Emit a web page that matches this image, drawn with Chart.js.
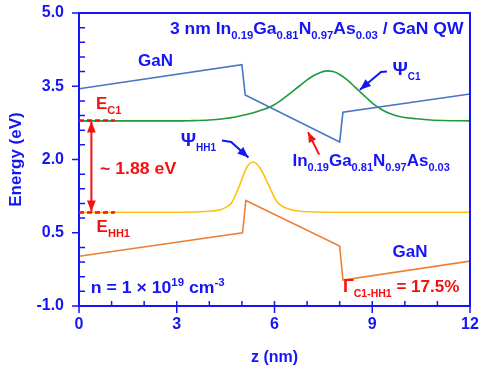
<!DOCTYPE html>
<html lang="en">

<head>
    <meta charset="UTF-8">
    <title>InGaNAs / GaN QW band diagram</title>
    <script src="https://cdn.jsdelivr.net/npm/chart.js"></script>
    <style>
        body {
            margin: 0;
            background: #fff;
        }
    </style>
</head>

<body>
    <canvas id="bands" width="486" height="368"></canvas>
    <script>
        // band edges (z in nm, energy in eV)
        const zCB = [0, 5.0, 5.1, 8.0, 8.1, 12];
        const eCB = [3.45, 3.94, 3.32, 2.36, 2.97, 3.34];
        const zVB = [0, 5.02, 5.12, 8.0, 8.1, 12];
        const eVB = [0.02, 0.50, 1.16, 0.23, -0.47, -0.08];

        // wavefunctions
        const zC1 = [0, 1, 2, 3, 3.4, 4.0, 4.43, 4.8, 5.14, 5.5, 5.91, 6.2, 6.47, 6.75, 6.98, 7.3, 7.6, 7.8, 8.0, 8.25, 8.52, 8.8, 9.03, 9.3, 9.54, 9.9, 10.36, 10.8, 11.17, 12];
        const eC1 = [2.79, 2.79, 2.79, 2.79, 2.795, 2.81, 2.835, 2.87, 2.92, 2.99, 3.09, 3.21, 3.35, 3.5, 3.62, 3.75, 3.815, 3.8, 3.74, 3.62, 3.45, 3.28, 3.14, 3.02, 2.94, 2.87, 2.835, 2.81, 2.80, 2.79];
        const zHH1 = [0, 3, 3.71, 4.33, 4.5, 4.68, 4.94, 5.14, 5.35, 5.55, 5.81, 6.06, 6.2, 6.37, 6.78, 8, 12];
        const eHH1 = [0.92, 0.92, 0.93, 0.97, 1.02, 1.11, 1.49, 1.83, 1.95, 1.83, 1.49, 1.15, 1.06, 1.00, 0.94, 0.92, 0.92];

        const EC1 = 2.8;
        const EHH1 = 0.915;

        const BLUE = '#1515f5';
        const RED = '#f51010';
        const FONT = '"Liberation Sans", Arial, sans-serif';

        const pts = (zs, es) => zs.map((z, i) => ({ x: z, y: es[i] }));

        function rich(ctx, x, y, parts, color, size, subSize, sx) {
            ctx.save();
            ctx.translate(x, y);
            ctx.scale(sx || 1, 1);
            ctx.fillStyle = color;
            ctx.textBaseline = 'alphabetic';
            ctx.textAlign = 'left';
            let cx = 0;
            parts.forEach(p => {
                const sz = p.s ? subSize : (p.big || size);
                ctx.font = 'bold ' + sz + 'px ' + FONT;
                const dy = p.s === 'sub' ? 5 : (p.s === 'sup' ? -7 : 0);
                ctx.fillText(p.t, cx, dy);
                cx += ctx.measureText(p.t).width;
            });
            ctx.restore();
        }

        function arrow(ctx, points, color, head, both) {
            ctx.save();
            ctx.strokeStyle = color;
            ctx.fillStyle = color;
            ctx.lineWidth = 2;
            ctx.beginPath();
            points.forEach((p, i) => i ? ctx.lineTo(p[0], p[1]) : ctx.moveTo(p[0], p[1]));
            ctx.stroke();
            const tip = (a, b) => {
                const ang = Math.atan2(a[1] - b[1], a[0] - b[0]);
                ctx.beginPath();
                ctx.moveTo(a[0], a[1]);
                ctx.lineTo(a[0] - head * Math.cos(ang) + head * 0.4 * Math.sin(ang), a[1] - head * Math.sin(ang) - head * 0.4 * Math.cos(ang));
                ctx.lineTo(a[0] - head * Math.cos(ang) - head * 0.4 * Math.sin(ang), a[1] - head * Math.sin(ang) + head * 0.4 * Math.cos(ang));
                ctx.closePath();
                ctx.fill();
            };
            const n = points.length;
            tip(points[n - 1], points[n - 2]);
            if (both) tip(points[0], points[1]);
            ctx.restore();
        }

        const decor = {
            id: 'decor',
            afterDraw(chart) {
                const ctx = chart.ctx;
                const xs = chart.scales.x, ys = chart.scales.y;
                const X = v => xs.getPixelForValue(v);
                const Y = v => ys.getPixelForValue(v);
                const a = chart.chartArea;

                // frame + ticks
                ctx.save();
                ctx.strokeStyle = BLUE;
                ctx.lineWidth = 2;
                ctx.strokeRect(a.left, a.top, a.right - a.left, a.bottom - a.top);
                ctx.lineWidth = 1.5;
                ctx.beginPath();
                xs.ticks.forEach(t => {
                    const px = X(t.value);
                    const major = Math.abs(t.value % 3) < 1e-6;
                    ctx.moveTo(px, a.bottom + (major ? 7 : 0));
                    ctx.lineTo(px, a.bottom - 5);
                });
                ys.ticks.forEach(t => {
                    const py = Y(t.value);
                    const major = t.label !== '';
                    ctx.moveTo(a.left - (major ? 7 : 0), py);
                    ctx.lineTo(a.left + (major ? 0 : 6), py);
                });
                ctx.stroke();
                ctx.restore();

                // energy levels
                ctx.save();
                ctx.strokeStyle = RED;
                ctx.lineWidth = 2.5;
                ctx.setLineDash([5, 3]);
                ctx.beginPath();
                ctx.moveTo(X(0), Y(EC1)); ctx.lineTo(X(1.1), Y(EC1));
                ctx.moveTo(X(0), Y(EHH1)); ctx.lineTo(X(1.1), Y(EHH1));
                ctx.stroke();
                ctx.restore();
                arrow(ctx, [[X(0.38), Y(EC1) + 1], [X(0.38), Y(EHH1) - 1]], RED, 11, true);

                // arrows
                arrow(ctx, [[X(4.39), Y(2.39)], [X(4.67), Y(2.36)], [X(5.2), Y(2.04)]], BLUE, 11);
                arrow(ctx, [[X(9.45), Y(3.80)], [X(9.27), Y(3.79)], [X(8.62), Y(3.43)]], BLUE, 11);
                arrow(ctx, [[X(7.37), Y(2.10)], [X(7.03), Y(2.56)]], RED, 10);

                // labels
                rich(ctx, X(2.79), Y(4.56), [{ t: '3 nm In' }, { t: '0.19', s: 'sub' }, { t: 'Ga' }, { t: '0.81', s: 'sub' },
                    { t: 'N' }, { t: '0.97', s: 'sub' }, { t: 'As' }, { t: '0.03', s: 'sub' }, { t: ' / GaN QW' }], BLUE, 17, 11, 1.03);
                rich(ctx, X(1.81), Y(3.905), [{ t: 'GaN' }], BLUE, 17, 11);
                rich(ctx, X(9.62), Y(0.01), [{ t: 'GaN' }], BLUE, 17, 11);
                rich(ctx, X(0.52), Y(3.03), [{ t: 'E' }, { t: 'C1', s: 'sub' }], RED, 17, 11);
                rich(ctx, X(0.54), Y(0.51), [{ t: 'E' }, { t: 'HH1', s: 'sub' }], RED, 17, 11);
                rich(ctx, X(0.645), Y(1.695), [{ t: '~ 1.88 eV' }], RED, 17, 11, 1.04);
                rich(ctx, X(3.12), Y(2.275), [{ t: 'Ψ', big: 19 }, { t: 'HH1', s: 'sub' }], BLUE, 17, 10);
                rich(ctx, X(9.62), Y(3.74), [{ t: 'Ψ', big: 19 }, { t: 'C1', s: 'sub' }], BLUE, 17, 10);
                rich(ctx, X(6.55), Y(1.865), [{ t: 'In' }, { t: '0.19', s: 'sub' }, { t: 'Ga' }, { t: '0.81', s: 'sub' },
                    { t: 'N' }, { t: '0.97', s: 'sub' }, { t: 'As' }, { t: '0.03', s: 'sub' }], BLUE, 17, 11);
                rich(ctx, X(8.10), Y(-0.705), [{ t: 'Γ', big: 18 }, { t: 'C1-HH1', s: 'sub' }, { t: ' = 17.5%' }], RED, 17, 10.5);
                rich(ctx, X(0.36), Y(-0.74), [{ t: 'n = 1 × 10' }, { t: '19', s: 'sup' }, { t: ' cm' }, { t: '-3', s: 'sup' }], BLUE, 17, 11, 1.04);
            }
        };

        new Chart(document.getElementById('bands'), {
            type: 'line',
            data: {
                datasets: [
                    { data: pts(zCB, eCB), borderColor: '#4a74c6', borderWidth: 1.6 },
                    { data: pts(zVB, eVB), borderColor: '#ee7f35', borderWidth: 1.6 },
                    { data: pts(zC1, eC1), borderColor: '#1f9a3c', borderWidth: 1.6, cubicInterpolationMode: 'monotone' },
                    { data: pts(zHH1, eHH1), borderColor: '#ffc10e', borderWidth: 1.6, cubicInterpolationMode: 'monotone' }
                ]
            },
            options: {
                responsive: false,
                animation: false,
                elements: { point: { radius: 0 } },
                layout: { padding: { top: 13, right: 16, left: 0, bottom: 0 } },
                plugins: {
                    legend: { display: false },
                    tooltip: { enabled: false }
                },
                scales: {
                    x: {
                        type: 'linear',
                        min: 0,
                        max: 12,
                        grid: { display: false, drawTicks: false },
                        border: { display: false },
                        ticks: {
                            stepSize: 1,
                            autoSkip: false,
                            maxRotation: 0,
                            padding: 9,
                            color: BLUE,
                            font: { family: FONT, size: 16, weight: 'bold' },
                            callback: v => (v % 3 === 0 ? String(v) : '')
                        },
                        title: {
                            display: true,
                            text: 'z (nm)',
                            color: BLUE,
                            font: { family: FONT, size: 16, weight: 'bold' },
                            padding: { top: 0, bottom: 1 }
                        },
                        afterFit: s => {
                            s.height = 62;
                            s.paddingLeft = 0;
                            s.paddingRight = 0;
                        }
                    },
                    y: {
                        min: -1,
                        max: 5,
                        grid: { display: false, drawTicks: false },
                        border: { display: false },
                        ticks: {
                            stepSize: 0.3,
                            autoSkip: false,
                            padding: 15,
                            color: BLUE,
                            font: { family: FONT, size: 16, weight: 'bold' },
                            callback: v => {
                                const k = (v + 1) / 1.5;
                                return Math.abs(k - Math.round(k)) < 1e-6 ? v.toFixed(1) : '';
                            }
                        },
                        title: {
                            display: true,
                            text: 'Energy (eV)',
                            color: BLUE,
                            font: { family: FONT, size: 17, weight: 'bold' },
                            padding: { top: 6, bottom: 0 }
                        },
                        afterFit: s => {
                            s.width = 79;
                            s.paddingTop = 0;
                            s.paddingBottom = 0;
                        }
                    }
                }
            },
            plugins: [decor]
        });
    </script>
</body>

</html>
